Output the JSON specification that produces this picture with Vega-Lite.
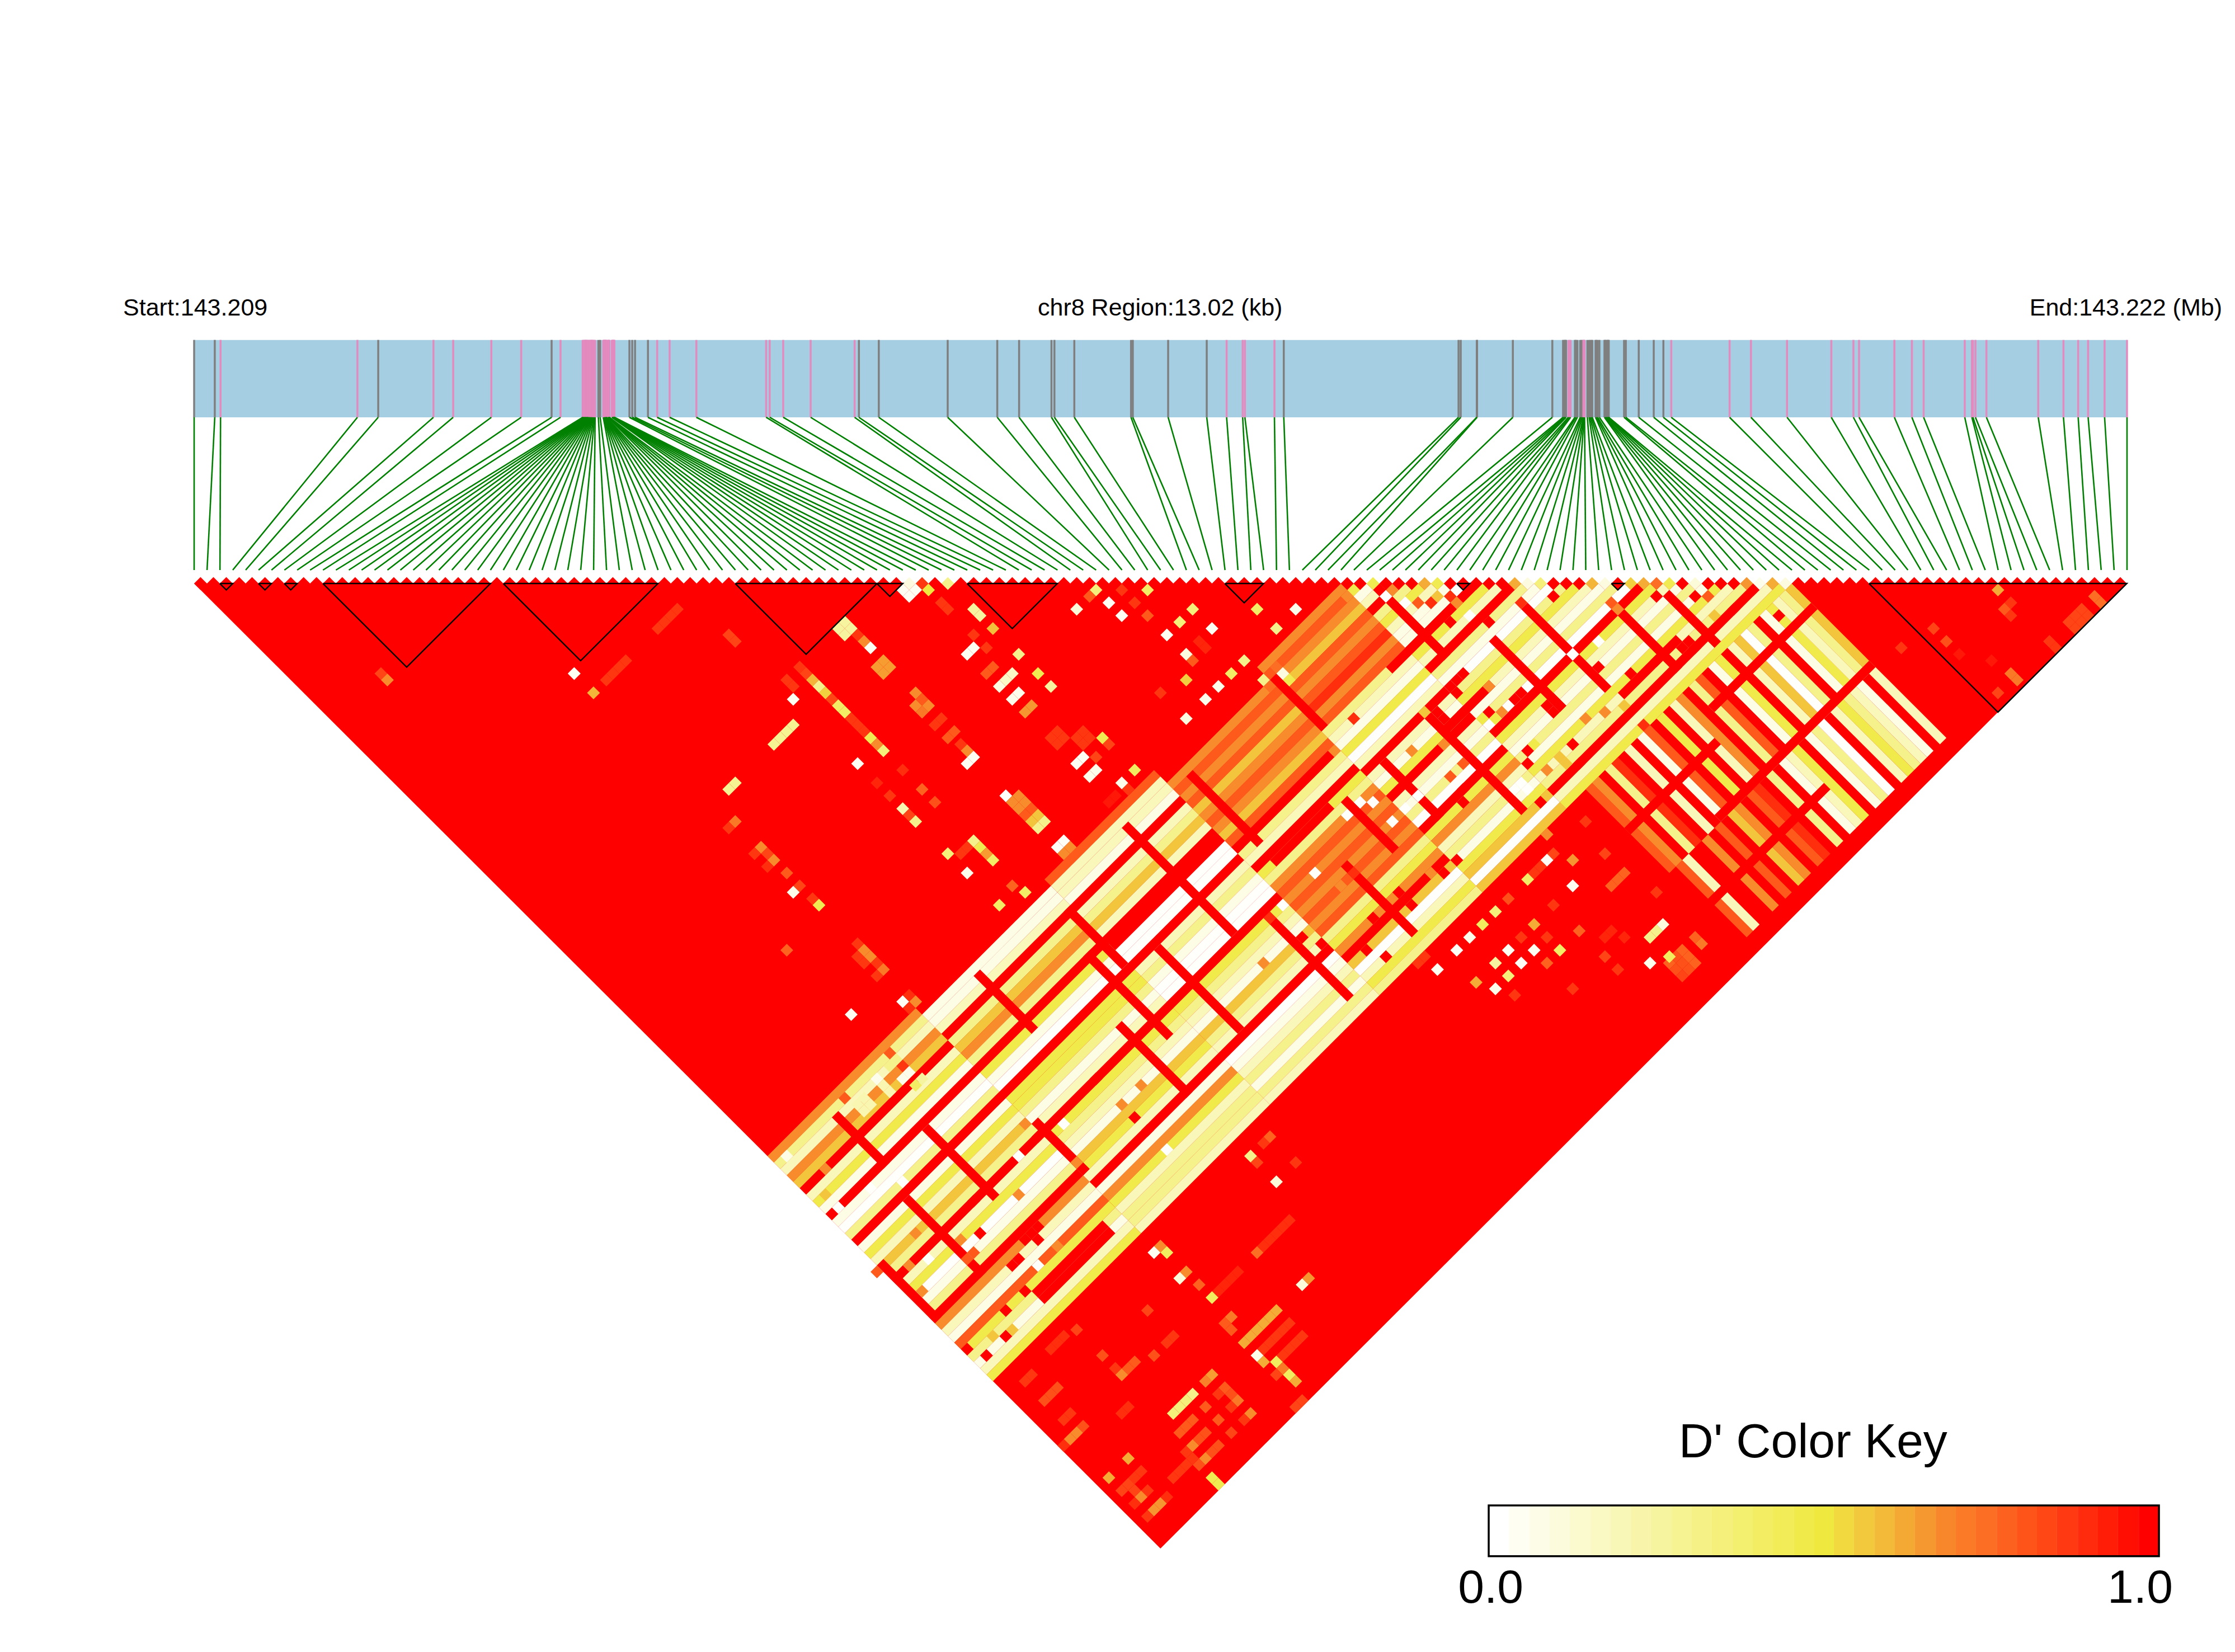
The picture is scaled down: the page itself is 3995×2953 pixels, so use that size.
{"$schema":"https://vega.github.io/schema/vega-lite/v6.json","width":3995,"height":2953,"padding":0,"autosize":{"type":"fit","contains":"padding"},"background":"white","config":{"view":{"stroke":null}},"resolve":{"scale":{"x":"independent"}},
"datasets":{
"snps":[{"k":0,"pos":0,"slot":0,"cls":"g"},{"k":1,"pos":139,"slot":87,"cls":"g"},{"k":2,"pos":178,"slot":174,"cls":"p"},{"k":3,"pos":1100,"slot":260,"cls":"p"},{"k":4,"pos":1240,"slot":347,"cls":"g"},{"k":5,"pos":1612,"slot":434,"cls":"p"},{"k":6,"pos":1745,"slot":521,"cls":"p"},{"k":7,"pos":2002,"slot":608,"cls":"p"},{"k":8,"pos":2203,"slot":694,"cls":"p"},{"k":9,"pos":2408,"slot":781,"cls":"g"},{"k":10,"pos":2468,"slot":868,"cls":"p"},{"k":11,"pos":2617,"slot":955,"cls":"p"},{"k":12,"pos":2621,"slot":1042,"cls":"p"},{"k":13,"pos":2625,"slot":1128,"cls":"p"},{"k":14,"pos":2630,"slot":1215,"cls":"p"},{"k":15,"pos":2634,"slot":1302,"cls":"p"},{"k":16,"pos":2638,"slot":1389,"cls":"p"},{"k":17,"pos":2642,"slot":1476,"cls":"p"},{"k":18,"pos":2646,"slot":1562,"cls":"p"},{"k":19,"pos":2651,"slot":1649,"cls":"p"},{"k":20,"pos":2655,"slot":1736,"cls":"p"},{"k":21,"pos":2659,"slot":1823,"cls":"p"},{"k":22,"pos":2663,"slot":1910,"cls":"p"},{"k":23,"pos":2667,"slot":1996,"cls":"p"},{"k":24,"pos":2672,"slot":2083,"cls":"p"},{"k":25,"pos":2676,"slot":2170,"cls":"p"},{"k":26,"pos":2680,"slot":2257,"cls":"p"},{"k":27,"pos":2684,"slot":2344,"cls":"p"},{"k":28,"pos":2688,"slot":2430,"cls":"p"},{"k":29,"pos":2693,"slot":2517,"cls":"p"},{"k":30,"pos":2697,"slot":2604,"cls":"p"},{"k":31,"pos":2701,"slot":2691,"cls":"p"},{"k":32,"pos":2723,"slot":2778,"cls":"g"},{"k":33,"pos":2735,"slot":2864,"cls":"g"},{"k":34,"pos":2756,"slot":2951,"cls":"p"},{"k":35,"pos":2759,"slot":3038,"cls":"p"},{"k":36,"pos":2761,"slot":3125,"cls":"p"},{"k":37,"pos":2763,"slot":3212,"cls":"p"},{"k":38,"pos":2766,"slot":3298,"cls":"p"},{"k":39,"pos":2768,"slot":3385,"cls":"p"},{"k":40,"pos":2771,"slot":3472,"cls":"p"},{"k":41,"pos":2773,"slot":3559,"cls":"p"},{"k":42,"pos":2775,"slot":3646,"cls":"p"},{"k":43,"pos":2778,"slot":3732,"cls":"p"},{"k":44,"pos":2787,"slot":3819,"cls":"p"},{"k":45,"pos":2790,"slot":3906,"cls":"p"},{"k":46,"pos":2792,"slot":3993,"cls":"p"},{"k":47,"pos":2795,"slot":4080,"cls":"p"},{"k":48,"pos":2797,"slot":4166,"cls":"p"},{"k":49,"pos":2814,"slot":4253,"cls":"p"},{"k":50,"pos":2816,"slot":4340,"cls":"p"},{"k":51,"pos":2819,"slot":4427,"cls":"p"},{"k":52,"pos":2821,"slot":4514,"cls":"p"},{"k":53,"pos":2823,"slot":4600,"cls":"p"},{"k":54,"pos":2826,"slot":4687,"cls":"p"},{"k":55,"pos":2828,"slot":4774,"cls":"p"},{"k":56,"pos":2831,"slot":4861,"cls":"p"},{"k":57,"pos":2932,"slot":4948,"cls":"g"},{"k":58,"pos":2951,"slot":5034,"cls":"g"},{"k":59,"pos":2970,"slot":5121,"cls":"g"},{"k":60,"pos":3057,"slot":5208,"cls":"g"},{"k":61,"pos":3119,"slot":5295,"cls":"p"},{"k":62,"pos":3203,"slot":5382,"cls":"p"},{"k":63,"pos":3383,"slot":5468,"cls":"p"},{"k":64,"pos":3853,"slot":5555,"cls":"p"},{"k":65,"pos":3877,"slot":5642,"cls":"p"},{"k":66,"pos":3968,"slot":5729,"cls":"p"},{"k":67,"pos":4153,"slot":5816,"cls":"p"},{"k":68,"pos":4449,"slot":5902,"cls":"p"},{"k":69,"pos":4478,"slot":5989,"cls":"g"},{"k":70,"pos":4612,"slot":6076,"cls":"g"},{"k":71,"pos":5076,"slot":6163,"cls":"g"},{"k":72,"pos":5410,"slot":6250,"cls":"g"},{"k":73,"pos":5557,"slot":6336,"cls":"g"},{"k":74,"pos":5775,"slot":6423,"cls":"g"},{"k":75,"pos":5795,"slot":6510,"cls":"g"},{"k":76,"pos":5929,"slot":6597,"cls":"g"},{"k":77,"pos":6311,"slot":6684,"cls":"g"},{"k":78,"pos":6323,"slot":6770,"cls":"g"},{"k":79,"pos":6561,"slot":6857,"cls":"g"},{"k":80,"pos":6821,"slot":6944,"cls":"g"},{"k":81,"pos":6955,"slot":7031,"cls":"p"},{"k":82,"pos":7063,"slot":7118,"cls":"p"},{"k":83,"pos":7078,"slot":7204,"cls":"p"},{"k":84,"pos":7277,"slot":7291,"cls":"p"},{"k":85,"pos":7340,"slot":7378,"cls":"g"},{"k":86,"pos":8517,"slot":7465,"cls":"g"},{"k":87,"pos":8532,"slot":7552,"cls":"g"},{"k":88,"pos":8640,"slot":7638,"cls":"g"},{"k":89,"pos":8642,"slot":7725,"cls":"g"},{"k":90,"pos":8883,"slot":7812,"cls":"g"},{"k":91,"pos":9149,"slot":7899,"cls":"g"},{"k":92,"pos":9221,"slot":7986,"cls":"g"},{"k":93,"pos":9229,"slot":8072,"cls":"g"},{"k":94,"pos":9236,"slot":8159,"cls":"g"},{"k":95,"pos":9241,"slot":8246,"cls":"g"},{"k":96,"pos":9257,"slot":8333,"cls":"p"},{"k":97,"pos":9265,"slot":8420,"cls":"p"},{"k":98,"pos":9272,"slot":8506,"cls":"p"},{"k":99,"pos":9301,"slot":8593,"cls":"g"},{"k":100,"pos":9308,"slot":8680,"cls":"g"},{"k":101,"pos":9318,"slot":8767,"cls":"g"},{"k":102,"pos":9337,"slot":8854,"cls":"g"},{"k":103,"pos":9344,"slot":8940,"cls":"g"},{"k":104,"pos":9351,"slot":9027,"cls":"g"},{"k":105,"pos":9358,"slot":9114,"cls":"p"},{"k":106,"pos":9361,"slot":9201,"cls":"p"},{"k":107,"pos":9363,"slot":9288,"cls":"p"},{"k":108,"pos":9366,"slot":9374,"cls":"p"},{"k":109,"pos":9385,"slot":9461,"cls":"g"},{"k":110,"pos":9397,"slot":9548,"cls":"g"},{"k":111,"pos":9404,"slot":9635,"cls":"g"},{"k":112,"pos":9411,"slot":9722,"cls":"g"},{"k":113,"pos":9418,"slot":9808,"cls":"g"},{"k":114,"pos":9440,"slot":9895,"cls":"g"},{"k":115,"pos":9447,"slot":9982,"cls":"g"},{"k":116,"pos":9454,"slot":10069,"cls":"g"},{"k":117,"pos":9466,"slot":10156,"cls":"g"},{"k":118,"pos":9500,"slot":10242,"cls":"g"},{"k":119,"pos":9505,"slot":10329,"cls":"g"},{"k":120,"pos":9510,"slot":10416,"cls":"g"},{"k":121,"pos":9517,"slot":10503,"cls":"g"},{"k":122,"pos":9522,"slot":10590,"cls":"g"},{"k":123,"pos":9527,"slot":10676,"cls":"g"},{"k":124,"pos":9529,"slot":10763,"cls":"g"},{"k":125,"pos":9632,"slot":10850,"cls":"g"},{"k":126,"pos":9644,"slot":10937,"cls":"g"},{"k":127,"pos":9731,"slot":11024,"cls":"g"},{"k":128,"pos":9832,"slot":11110,"cls":"g"},{"k":129,"pos":9897,"slot":11197,"cls":"g"},{"k":130,"pos":9950,"slot":11284,"cls":"p"},{"k":131,"pos":10343,"slot":11371,"cls":"p"},{"k":132,"pos":10487,"slot":11458,"cls":"p"},{"k":133,"pos":10730,"slot":11544,"cls":"p"},{"k":134,"pos":11028,"slot":11631,"cls":"p"},{"k":135,"pos":11177,"slot":11718,"cls":"p"},{"k":136,"pos":11215,"slot":11805,"cls":"p"},{"k":137,"pos":11453,"slot":11892,"cls":"p"},{"k":138,"pos":11571,"slot":11978,"cls":"p"},{"k":139,"pos":11650,"slot":12065,"cls":"p"},{"k":140,"pos":11927,"slot":12152,"cls":"p"},{"k":141,"pos":11975,"slot":12239,"cls":"p"},{"k":142,"pos":11982,"slot":12326,"cls":"p"},{"k":143,"pos":11999,"slot":12412,"cls":"p"},{"k":144,"pos":12073,"slot":12499,"cls":"p"},{"k":145,"pos":12422,"slot":12586,"cls":"p"},{"k":146,"pos":12592,"slot":12673,"cls":"p"},{"k":147,"pos":12691,"slot":12760,"cls":"p"},{"k":148,"pos":12758,"slot":12846,"cls":"p"},{"k":149,"pos":12869,"slot":12933,"cls":"p"},{"k":150,"pos":13020,"slot":13020,"cls":"p"}],
"strips":[{"s":90,"d":90,"t":112,"e":68,"v":0.68},{"s":133,"d":47,"t":149,"e":31,"v":0.8},{"s":166,"d":14,"t":178,"e":2,"v":0.68},
{"s":91,"d":91,"t":113,"e":69,"v":0.3},{"s":114,"d":68,"t":133,"e":49,"v":0.07},{"s":134,"d":48,"t":150,"e":32,"v":0.18},{"s":167,"d":15,"t":179,"e":3,"v":0.8},
{"s":92,"d":92,"t":114,"e":70,"v":0.18},{"s":115,"d":69,"t":134,"e":50,"v":0.07},{"s":135,"d":49,"t":151,"e":33,"v":0.18},{"s":152,"d":32,"t":167,"e":17,"v":0.68},{"s":168,"d":16,"t":180,"e":4,"v":0.68},{"s":181,"d":3,"t":182,"e":2,"v":0.07},
{"s":93,"d":93,"t":115,"e":71,"v":0.68},{"s":116,"d":70,"t":135,"e":51,"v":0.18},{"s":136,"d":50,"t":152,"e":34,"v":0.07},{"s":153,"d":33,"t":168,"e":18,"v":0.8},{"s":169,"d":17,"t":181,"e":5,"v":0.57},{"s":182,"d":4,"t":184,"e":2,"v":0.18},
{"s":94,"d":94,"t":116,"e":72,"v":0.57},{"s":154,"d":34,"t":169,"e":19,"v":0.68},{"s":170,"d":18,"t":182,"e":6,"v":0.8},
{"s":118,"d":72,"t":137,"e":53,"v":0.3},{"s":138,"d":52,"t":154,"e":36,"v":0.18},{"s":155,"d":35,"t":170,"e":20,"v":0.8},{"s":171,"d":19,"t":183,"e":7,"v":0.68},{"s":184,"d":6,"t":188,"e":2,"v":0.3},
{"s":96,"d":96,"t":118,"e":74,"v":0.18},{"s":119,"d":73,"t":138,"e":54,"v":0.57},{"s":139,"d":53,"t":155,"e":37,"v":0.3},{"s":156,"d":36,"t":171,"e":21,"v":0.57},{"s":172,"d":20,"t":184,"e":8,"v":0.8},{"s":185,"d":7,"t":190,"e":2,"v":0.47},
{"s":97,"d":97,"t":119,"e":75,"v":0.47},{"s":120,"d":74,"t":139,"e":55,"v":0.68},{"s":140,"d":54,"t":156,"e":38,"v":0.57},{"s":157,"d":37,"t":172,"e":22,"v":0.68},{"s":173,"d":21,"t":185,"e":9,"v":0.9},{"s":186,"d":8,"t":192,"e":2,"v":0.18},
{"s":98,"d":98,"t":120,"e":76,"v":0.07},{"s":121,"d":75,"t":140,"e":56,"v":0.3},{"s":141,"d":55,"t":157,"e":39,"v":0.18},{"s":158,"d":38,"t":173,"e":23,"v":0.8},{"s":174,"d":22,"t":186,"e":10,"v":0.68},{"s":187,"d":9,"t":194,"e":2,"v":0.07},
{"s":159,"d":39,"t":174,"e":24,"v":0.68},{"s":175,"d":23,"t":187,"e":11,"v":0.8},{"s":188,"d":10,"t":196,"e":2,"v":0.07},
{"s":100,"d":100,"t":122,"e":78,"v":0.07},{"s":123,"d":77,"t":142,"e":58,"v":0.47},{"s":160,"d":40,"t":175,"e":25,"v":0.57},{"s":176,"d":24,"t":188,"e":12,"v":0.3},
{"s":101,"d":101,"t":123,"e":79,"v":0.01},{"s":124,"d":78,"t":143,"e":59,"v":0.07},{"s":144,"d":58,"t":160,"e":42,"v":0.01},{"s":161,"d":41,"t":176,"e":26,"v":0.8},{"s":177,"d":25,"t":189,"e":13,"v":0.18},{"s":190,"d":12,"t":200,"e":2,"v":0.47},
{"s":102,"d":102,"t":124,"e":80,"v":0.3},{"s":125,"d":79,"t":144,"e":60,"v":0.01},{"s":145,"d":59,"t":161,"e":43,"v":0.01},{"s":178,"d":26,"t":190,"e":14,"v":0.07},{"s":191,"d":13,"t":202,"e":2,"v":0.18},
{"s":163,"d":43,"t":178,"e":28,"v":0.3},{"s":179,"d":27,"t":191,"e":15,"v":0.47},
{"s":104,"d":104,"t":126,"e":82,"v":0.07},{"s":127,"d":81,"t":146,"e":62,"v":0.47},{"s":147,"d":61,"t":163,"e":45,"v":0.18},{"s":164,"d":44,"t":179,"e":29,"v":0.18},{"s":180,"d":28,"t":192,"e":16,"v":0.01},{"s":193,"d":15,"t":206,"e":2,"v":0.3},
{"s":105,"d":105,"t":127,"e":83,"v":0.47},{"s":128,"d":82,"t":147,"e":63,"v":0.47},{"s":148,"d":62,"t":164,"e":46,"v":0.3},{"s":181,"d":29,"t":193,"e":17,"v":0.18},{"s":194,"d":16,"t":208,"e":2,"v":0.07},
{"s":106,"d":106,"t":128,"e":84,"v":0.18},{"s":129,"d":83,"t":148,"e":64,"v":0.3},{"s":149,"d":63,"t":165,"e":47,"v":0.07},{"s":166,"d":46,"t":181,"e":31,"v":0.47},{"s":195,"d":17,"t":210,"e":2,"v":0.01},
{"s":107,"d":107,"t":129,"e":85,"v":0.57},{"s":130,"d":84,"t":149,"e":65,"v":0.07},{"s":150,"d":64,"t":166,"e":48,"v":0.01},{"s":167,"d":47,"t":182,"e":32,"v":0.3},{"s":183,"d":31,"t":195,"e":19,"v":0.18},{"s":196,"d":18,"t":212,"e":2,"v":0.3},
{"s":108,"d":108,"t":130,"e":86,"v":0.3},{"s":131,"d":85,"t":150,"e":66,"v":0.18},{"s":151,"d":65,"t":167,"e":49,"v":0.01},{"s":168,"d":48,"t":183,"e":33,"v":0.68},{"s":184,"d":32,"t":196,"e":20,"v":0.07},{"s":197,"d":19,"t":214,"e":2,"v":0.47},
{"s":169,"d":49,"t":184,"e":34,"v":0.8},{"s":185,"d":33,"t":197,"e":21,"v":0.47},{"s":198,"d":20,"t":216,"e":2,"v":0.18},
{"s":110,"d":110,"t":132,"e":88,"v":0.18},{"s":133,"d":87,"t":152,"e":68,"v":0.47},{"s":153,"d":67,"t":169,"e":51,"v":0.47},{"s":170,"d":50,"t":185,"e":35,"v":0.68},{"s":199,"d":21,"t":218,"e":2,"v":0.07},
{"s":111,"d":111,"t":133,"e":89,"v":0.47},{"s":134,"d":88,"t":153,"e":69,"v":0.3},{"s":154,"d":68,"t":170,"e":52,"v":0.3},{"s":171,"d":51,"t":186,"e":36,"v":0.8},{"s":187,"d":35,"t":199,"e":23,"v":0.18},{"s":200,"d":22,"t":220,"e":2,"v":0.3},
{"s":112,"d":112,"t":134,"e":90,"v":0.01},{"s":135,"d":89,"t":154,"e":70,"v":0.18},{"s":155,"d":69,"t":171,"e":53,"v":0.18},{"s":172,"d":52,"t":187,"e":37,"v":0.68},{"s":188,"d":36,"t":200,"e":24,"v":0.07},{"s":201,"d":23,"t":222,"e":2,"v":0.01},
{"s":113,"d":113,"t":135,"e":91,"v":0.07},{"s":136,"d":90,"t":155,"e":71,"v":0.07},{"s":156,"d":70,"t":172,"e":54,"v":0.07},{"s":173,"d":53,"t":188,"e":38,"v":0.8},{"s":189,"d":37,"t":201,"e":25,"v":0.3},
{"s":114,"d":114,"t":136,"e":92,"v":0.3},{"s":137,"d":91,"t":156,"e":72,"v":0.57},{"s":157,"d":71,"t":173,"e":55,"v":0.57},{"s":174,"d":54,"t":189,"e":39,"v":0.68},{"s":190,"d":38,"t":202,"e":26,"v":0.01},{"s":203,"d":25,"t":226,"e":2,"v":0.47},
{"s":138,"d":92,"t":157,"e":73,"v":0.47},{"s":158,"d":72,"t":174,"e":56,"v":0.3},{"s":175,"d":55,"t":190,"e":40,"v":0.8},{"s":204,"d":26,"t":228,"e":2,"v":0.18},
{"s":116,"d":116,"t":138,"e":94,"v":0.68},{"s":139,"d":93,"t":158,"e":74,"v":0.18},{"s":159,"d":73,"t":175,"e":57,"v":0.18},{"s":176,"d":56,"t":191,"e":41,"v":0.3},{"s":192,"d":40,"t":204,"e":28,"v":0.47},{"s":205,"d":27,"t":230,"e":2,"v":0.07},
{"s":117,"d":117,"t":139,"e":95,"v":0.18},{"s":177,"d":57,"t":192,"e":42,"v":0.47},{"s":193,"d":41,"t":205,"e":29,"v":0.68},{"s":206,"d":28,"t":232,"e":2,"v":0.3},
{"s":118,"d":118,"t":140,"e":96,"v":0.07},{"s":141,"d":95,"t":160,"e":76,"v":0.07},{"s":161,"d":75,"t":177,"e":59,"v":0.01},{"s":178,"d":58,"t":193,"e":43,"v":0.68},{"s":194,"d":42,"t":206,"e":30,"v":0.18},{"s":207,"d":29,"t":234,"e":2,"v":0.07},
{"s":119,"d":119,"t":141,"e":97,"v":0.8},{"s":142,"d":96,"t":161,"e":77,"v":0.68},{"s":162,"d":76,"t":178,"e":60,"v":0.07},{"s":195,"d":43,"t":207,"e":31,"v":0.3},{"s":208,"d":30,"t":236,"e":2,"v":0.47},
{"s":120,"d":120,"t":142,"e":98,"v":0.47},{"s":143,"d":97,"t":162,"e":78,"v":0.47},{"s":163,"d":77,"t":179,"e":61,"v":0.18},{"s":180,"d":60,"t":195,"e":45,"v":0.57},{"s":196,"d":44,"t":208,"e":32,"v":0.07},{"s":209,"d":31,"t":238,"e":2,"v":0.18},
{"s":121,"d":121,"t":143,"e":99,"v":0.3},{"s":144,"d":98,"t":163,"e":79,"v":0.18},{"s":164,"d":78,"t":180,"e":62,"v":0.3},{"s":181,"d":61,"t":196,"e":46,"v":0.01},{"s":197,"d":45,"t":209,"e":33,"v":0.47},{"s":210,"d":32,"t":240,"e":2,"v":0.3},
{"s":122,"d":122,"t":144,"e":100,"v":0.07},{"s":145,"d":99,"t":164,"e":80,"v":0.3},{"s":165,"d":79,"t":181,"e":63,"v":0.07},{"s":182,"d":62,"t":197,"e":47,"v":0.18},{"s":198,"d":46,"t":210,"e":34,"v":0.57},
{"s":123,"d":123,"t":145,"e":101,"v":0.18},{"s":146,"d":100,"t":165,"e":81,"v":0.3},{"s":166,"d":80,"t":182,"e":64,"v":0.3},{"s":183,"d":63,"t":198,"e":48,"v":0.47},{"s":199,"d":47,"t":211,"e":35,"v":0.01},{"s":212,"d":34,"t":244,"e":2,"v":0.18},
{"s":124,"d":124,"t":146,"e":102,"v":0.47},{"s":147,"d":101,"t":166,"e":82,"v":0.18},{"s":167,"d":81,"t":183,"e":65,"v":0.18},{"s":184,"d":64,"t":199,"e":49,"v":0.3},{"s":200,"d":48,"t":212,"e":36,"v":0.57},{"s":213,"d":35,"t":246,"e":2,"v":0.47},
{"s":107,"d":107,"t":115,"e":115,"v":1},{"s":111,"d":97,"t":122,"e":108,"v":1},{"s":100,"d":84,"t":107,"e":91,"v":1},{"s":114,"d":86,"t":124,"e":96,"v":1},{"s":131,"d":85,"t":138,"e":92,"v":1},{"s":122,"d":62,"t":130,"e":70,"v":1},{"s":144,"d":70,"t":154,"e":80,"v":1},{"s":139,"d":59,"t":151,"e":71,"v":1},{"s":136,"d":52,"t":144,"e":60,"v":1},{"s":150,"d":58,"t":162,"e":70,"v":1},{"s":145,"d":39,"t":161,"e":55,"v":1},{"s":167,"d":53,"t":179,"e":65,"v":1},{"s":155,"d":31,"t":165,"e":41,"v":1},{"s":179,"d":45,"t":189,"e":55,"v":1},{"s":179,"d":35,"t":186,"e":42,"v":1},{"s":168,"d":16,"t":175,"e":23,"v":1},{"s":185,"d":29,"t":193,"e":37,"v":1},{"s":192,"d":22,"t":206,"e":36,"v":1},{"s":184,"d":2,"t":194,"e":12,"v":1},{"s":202,"d":10,"t":212,"e":20,"v":1},{"s":207,"d":5,"t":219,"e":17,"v":1},{"s":221,"d":5,"t":230,"e":14,"v":1},{"s":229,"d":3,"t":236,"e":10,"v":1},
{"s":186,"d":14,"t":195,"e":5,"v":1},{"s":168,"d":44,"t":176,"e":36,"v":1},{"s":194,"d":24,"t":201,"e":17,"v":1},{"s":222,"d":18,"t":230,"e":10,"v":1},{"s":132,"d":112,"t":142,"e":102,"v":1},{"s":131,"d":111,"t":141,"e":101,"v":1},
{"s":217,"d":33,"t":229,"e":45,"v":0.8},{"s":218,"d":32,"t":230,"e":44,"v":0.68},{"s":231,"d":45,"t":241,"e":55,"v":0.8},{"s":232,"d":44,"t":242,"e":54,"v":0.18},{"s":220,"d":30,"t":232,"e":42,"v":0.3},{"s":221,"d":29,"t":233,"e":41,"v":0.9},{"s":235,"d":41,"t":245,"e":51,"v":0.68},{"s":223,"d":27,"t":235,"e":39,"v":0.18},{"s":237,"d":39,"t":247,"e":49,"v":0.8},{"s":225,"d":25,"t":237,"e":37,"v":0.07},{"s":226,"d":24,"t":238,"e":36,"v":0.8},{"s":239,"d":37,"t":249,"e":47,"v":0.57},{"s":240,"d":36,"t":250,"e":46,"v":0.68},{"s":228,"d":22,"t":240,"e":34,"v":0.47},{"s":242,"d":34,"t":252,"e":44,"v":0.8},{"s":230,"d":20,"t":242,"e":32,"v":0.18},{"s":243,"d":33,"t":253,"e":43,"v":0.9},{"s":231,"d":19,"t":243,"e":31,"v":0.68},{"s":245,"d":31,"t":255,"e":41,"v":0.3},{"s":233,"d":17,"t":245,"e":29,"v":0.3},{"s":234,"d":16,"t":246,"e":28,"v":0.8},{"s":247,"d":29,"t":257,"e":39,"v":0.07},{"s":248,"d":28,"t":258,"e":38,"v":0.18},{"s":236,"d":14,"t":248,"e":26,"v":0.07},{"s":249,"d":27,"t":259,"e":37,"v":0.47},{"s":237,"d":13,"t":249,"e":25,"v":0.47},{"s":251,"d":25,"t":261,"e":35,"v":0.07},{"s":239,"d":11,"t":251,"e":23,"v":0.18},{"s":252,"d":24,"t":262,"e":34,"v":0.3},{"s":240,"d":10,"t":252,"e":22,"v":0.57},{"s":253,"d":23,"t":263,"e":33,"v":0.01},{"s":241,"d":9,"t":253,"e":21,"v":0.01},{"s":242,"d":8,"t":254,"e":20,"v":0.3},{"s":255,"d":21,"t":265,"e":31,"v":0.18},{"s":256,"d":20,"t":266,"e":30,"v":0.47},{"s":244,"d":6,"t":256,"e":18,"v":0.07},{"s":257,"d":19,"t":267,"e":29,"v":0.3},{"s":245,"d":5,"t":257,"e":17,"v":0.47},{"s":258,"d":18,"t":268,"e":28,"v":0.18},{"s":246,"d":4,"t":258,"e":16,"v":0.18},{"s":259,"d":17,"t":269,"e":27,"v":0.07},{"s":247,"d":3,"t":259,"e":15,"v":0.3},{"s":248,"d":2,"t":260,"e":14,"v":0.57},{"s":261,"d":15,"t":271,"e":25,"v":0.18},
{"s":223,"d":39,"t":236,"e":26,"v":1},{"s":237,"d":37,"t":260,"e":14,"v":1},{"s":235,"d":51,"t":253,"e":33,"v":1},{"s":236,"d":20,"t":251,"e":5,"v":1}],
"cells":[{"s":29,"d":15,"v":0.85},{"s":30,"d":16,"v":0.68},{"s":59,"d":15,"v":0.03},{"s":62,"d":18,"v":0.6},{"s":72,"d":8,"v":0.88},{"s":73,"d":7,"v":0.88},{"s":74,"d":6,"v":0.88},{"s":75,"d":5,"v":0.88},{"s":83,"d":9,"v":0.85},{"s":84,"d":10,"v":0.85},{"s":64,"d":16,"v":0.88},{"s":65,"d":15,"v":0.88},{"s":66,"d":14,"v":0.88},{"s":67,"d":13,"v":0.88},
{"s":101,"d":7,"v":0.25},{"s":100,"d":8,"v":0.25},{"s":102,"d":8,"v":0.25},{"s":101,"d":9,"v":0.25},{"s":103,"d":9,"v":0.88},{"s":104,"d":10,"v":0.68},{"s":105,"d":11,"v":0.03},{"s":107,"d":13,"v":0.65},{"s":106,"d":14,"v":0.65},{"s":108,"d":14,"v":0.65},{"s":107,"d":15,"v":0.65},{"s":94,"d":14,"v":0.88},{"s":95,"d":15,"v":0.85},{"s":96,"d":16,"v":0.6},{"s":97,"d":17,"v":0.3},{"s":98,"d":18,"v":0.55},{"s":92,"d":16,"v":0.88},{"s":93,"d":17,"v":0.88},{"s":112,"d":18,"v":0.68},{"s":110,"d":2,"v":0.03},{"s":111,"d":1,"v":0.08},{"s":113,"d":1,"v":0.88},{"s":114,"d":2,"v":0.5},{"s":111,"d":3,"v":0.03},{"s":112,"d":2,"v":0.03},{"s":116,"d":4,"v":0.88},{"s":117,"d":5,"v":0.88},{"s":117,"d":1,"v":0.3},{"s":121,"d":5,"v":0.25},{"s":122,"d":6,"v":0.25},{"s":124,"d":8,"v":0.58},{"s":121,"d":9,"v":0.88},{"s":120,"d":12,"v":0.03},{"s":121,"d":11,"v":0.03},{"s":123,"d":11,"v":0.88},{"s":128,"d":12,"v":0.3},{"s":123,"d":15,"v":0.8},{"s":124,"d":14,"v":0.8},{"s":125,"d":17,"v":0.08},{"s":126,"d":16,"v":0.15},{"s":127,"d":15,"v":0.15},{"s":131,"d":15,"v":0.45},{"s":133,"d":17,"v":0.25},{"s":137,"d":5,"v":0.1},{"s":140,"d":2,"v":0.35},{"s":139,"d":3,"v":0.8},{"s":142,"d":4,"v":0.03},{"s":144,"d":2,"v":0.88},{"s":146,"d":4,"v":0.88},{"s":144,"d":6,"v":0.03},{"s":148,"d":6,"v":0.8},{"s":148,"d":2,"v":0.4},{"s":155,"d":5,"v":0.35},{"s":153,"d":7,"v":0.35},{"s":151,"d":9,"v":0.03},{"s":158,"d":8,"v":0.03},{"s":165,"d":5,"v":0.4},{"s":171,"d":5,"v":0.05},{"s":168,"d":8,"v":0.3},{"s":156,"d":10,"v":0.92},{"s":157,"d":11,"v":0.92},{"s":154,"d":12,"v":0.08},{"s":155,"d":13,"v":0.8},{"s":163,"d":13,"v":0.3},{"s":161,"d":15,"v":0.4},{"s":154,"d":16,"v":0.55},{"s":159,"d":17,"v":0.05},{"s":168,"d":14,"v":0.75},{"s":169,"d":15,"v":0.08},{"s":170,"d":16,"v":0.45},{"s":166,"d":16,"v":0.3},{"s":167,"d":17,"v":0.75},{"s":150,"d":18,"v":0.88},
{"s":93,"d":19,"v":0.03},{"s":99,"d":19,"v":0.85},{"s":100,"d":20,"v":0.4},{"s":101,"d":21,"v":0.4},{"s":90,"d":26,"v":0.28},{"s":91,"d":25,"v":0.28},{"s":92,"d":24,"v":0.28},{"s":93,"d":23,"v":0.28},{"s":103,"d":29,"v":0.03},{"s":102,"d":22,"v":0.88},{"s":103,"d":23,"v":0.88},{"s":104,"d":24,"v":0.88},{"s":105,"d":25,"v":0.45},{"s":106,"d":26,"v":0.68},{"s":107,"d":27,"v":0.35},{"s":110,"d":30,"v":0.9},{"s":106,"d":32,"v":0.92},{"s":108,"d":34,"v":0.88},{"s":113,"d":33,"v":0.78},{"s":115,"d":35,"v":0.82},{"s":110,"d":36,"v":0.2},{"s":111,"d":37,"v":0.85},{"s":112,"d":38,"v":0.3},{"s":112,"d":20,"v":0.68},{"s":113,"d":19,"v":0.8},{"s":113,"d":21,"v":0.72},{"s":114,"d":20,"v":0.68},{"s":115,"d":23,"v":0.88},{"s":116,"d":22,"v":0.88},{"s":117,"d":25,"v":0.8},{"s":118,"d":24,"v":0.8},{"s":119,"d":26,"v":0.88},{"s":120,"d":27,"v":0.68},{"s":121,"d":28,"v":0.03},{"s":120,"d":29,"v":0.03},{"s":83,"d":33,"v":0.28},{"s":84,"d":32,"v":0.28},{"s":83,"d":39,"v":0.88},{"s":84,"d":38,"v":0.72},{"s":88,"d":42,"v":0.68},{"s":87,"d":43,"v":0.88},{"s":89,"d":43,"v":0.85},{"s":90,"d":44,"v":0.68},{"s":89,"d":45,"v":0.9},{"s":92,"d":46,"v":0.8},{"s":94,"d":48,"v":0.85},{"s":93,"d":49,"v":0.05},{"s":96,"d":50,"v":0.88},{"s":97,"d":51,"v":0.45},{"s":92,"d":58,"v":0.78},{"s":103,"d":57,"v":0.88},{"s":104,"d":58,"v":0.68},{"s":105,"d":59,"v":0.68},{"s":103,"d":59,"v":0.88},{"s":104,"d":60,"v":0.88},{"s":106,"d":60,"v":0.88},{"s":107,"d":61,"v":0.72},{"s":106,"d":62,"v":0.88},{"s":110,"d":66,"v":0.02},{"s":111,"d":65,"v":0.9},{"s":112,"d":66,"v":0.68},{"s":111,"d":67,"v":0.9},{"s":102,"d":68,"v":0.03},{"s":108,"d":74,"v":0.8},{"s":109,"d":75,"v":0.3},{"s":108,"d":76,"v":0.3},{"s":110,"d":76,"v":0.88},{"s":111,"d":77,"v":0.05},{"s":110,"d":78,"v":0.05},{"s":106,"d":78,"v":0.05},{"s":107,"d":79,"v":0.2},{"s":108,"d":80,"v":0.2},{"s":104,"d":81,"v":0.2},{"s":103,"d":82,"v":0.2},{"s":105,"d":82,"v":0.2},{"s":104,"d":83,"v":0.2},{"s":101,"d":81,"v":0.8},{"s":112,"d":79,"v":0.4},{"s":113,"d":78,"v":0.25},{"s":117,"d":43,"v":0.35},{"s":120,"d":46,"v":0.05},{"s":120,"d":42,"v":0.88},{"s":119,"d":43,"v":0.88},{"s":122,"d":42,"v":0.45},{"s":123,"d":43,"v":0.65},{"s":124,"d":44,"v":0.4},{"s":121,"d":41,"v":0.3},{"s":127,"d":48,"v":0.78},{"s":129,"d":49,"v":0.4},{"s":125,"d":51,"v":0.4},{"s":134,"d":24,"v":0.88},{"s":133,"d":25,"v":0.88},{"s":135,"d":25,"v":0.88},{"s":134,"d":26,"v":0.88},{"s":138,"d":24,"v":0.88},{"s":137,"d":25,"v":0.88},{"s":139,"d":25,"v":0.88},{"s":138,"d":26,"v":0.88},{"s":141,"d":25,"v":0.45},{"s":142,"d":26,"v":0.85},{"s":137,"d":29,"v":0.03},{"s":138,"d":28,"v":0.03},{"s":140,"d":28,"v":0.85},{"s":139,"d":31,"v":0.05},{"s":140,"d":30,"v":0.05},{"s":146,"d":30,"v":0.42},{"s":144,"d":32,"v":0.05},{"s":145,"d":33,"v":0.88},{"s":142,"d":35,"v":0.95},{"s":143,"d":34,"v":0.95},{"s":154,"d":22,"v":0.08},{"s":157,"d":19,"v":0.05},{"s":127,"d":19,"v":0.05},{"s":128,"d":18,"v":0.05},{"s":129,"d":21,"v":0.66},{"s":130,"d":20,"v":0.66},{"s":134,"d":42,"v":0.02},{"s":135,"d":41,"v":0.02},{"s":135,"d":43,"v":0.68},{"s":136,"d":42,"v":0.68},{"s":126,"d":34,"v":0.01},{"s":127,"d":35,"v":0.68},{"s":128,"d":36,"v":0.68},{"s":129,"d":37,"v":0.8},{"s":130,"d":38,"v":0.57},{"s":131,"d":39,"v":0.3},{"s":128,"d":34,"v":0.68},{"s":129,"d":35,"v":0.68},{"s":130,"d":36,"v":0.8},{"s":131,"d":37,"v":0.57},{"s":132,"d":38,"v":0.3},
{"s":210,"d":40,"v":0.68},{"s":216,"d":38,"v":0.88},{"s":211,"d":43,"v":0.85},{"s":210,"d":44,"v":0.02},{"s":209,"d":45,"v":0.88},{"s":208,"d":46,"v":0.88},{"s":214,"d":44,"v":0.66},{"s":207,"d":47,"v":0.4},{"s":214,"d":48,"v":0.03},{"s":219,"d":43,"v":0.85},{"s":220,"d":48,"v":0.78},{"s":221,"d":47,"v":0.78},{"s":222,"d":46,"v":0.78},{"s":227,"d":49,"v":0.88},{"s":204,"d":50,"v":0.82},{"s":211,"d":51,"v":0.88},{"s":202,"d":52,"v":0.35},{"s":200,"d":54,"v":0.42},{"s":208,"d":54,"v":0.62},{"s":215,"d":55,"v":0.78},{"s":198,"d":56,"v":0.05},{"s":206,"d":56,"v":0.88},{"s":210,"d":56,"v":0.88},{"s":196,"d":58,"v":0.02},{"s":204,"d":58,"v":0.03},{"s":208,"d":58,"v":0.03},{"s":212,"d":58,"v":0.4},{"s":202,"d":60,"v":0.25},{"s":206,"d":60,"v":0.02},{"s":210,"d":60,"v":0.78},{"s":193,"d":61,"v":0.03},{"s":204,"d":62,"v":0.35},{"s":219,"d":59,"v":0.85},{"s":221,"d":61,"v":0.88},{"s":219,"d":56,"v":0.92},{"s":220,"d":55,"v":0.92},{"s":222,"d":56,"v":0.92},{"s":199,"d":63,"v":0.62},{"s":202,"d":64,"v":0.05},{"s":214,"d":64,"v":0.88},{"s":205,"d":65,"v":0.88},{"s":190,"d":60,"v":0.88},{"s":191,"d":59,"v":0.88},{"s":226,"d":56,"v":0.3},{"s":227,"d":55,"v":0.3},{"s":228,"d":54,"v":0.08},{"s":231,"d":58,"v":0.78},{"s":232,"d":59,"v":0.78},{"s":233,"d":60,"v":0.78},{"s":230,"d":59,"v":0.82},{"s":231,"d":60,"v":0.82},{"s":232,"d":61,"v":0.82},{"s":229,"d":60,"v":0.78},{"s":230,"d":61,"v":0.82},{"s":231,"d":62,"v":0.85},{"s":233,"d":56,"v":0.78},{"s":234,"d":57,"v":0.72},{"s":226,"d":60,"v":0.05},{"s":229,"d":59,"v":0.42},
{"s":167,"d":87,"v":0.78},{"s":166,"d":88,"v":0.88},{"s":164,"d":90,"v":0.3},{"s":165,"d":91,"v":0.85},{"s":171,"d":91,"v":0.88},{"s":168,"d":94,"v":0.1},{"s":165,"d":105,"v":0.75},{"s":166,"d":104,"v":0.9},{"s":167,"d":103,"v":0.9},{"s":168,"d":102,"v":0.9},{"s":169,"d":101,"v":0.9},{"s":170,"d":100,"v":0.9},{"s":150,"d":104,"v":0.68},{"s":149,"d":105,"v":0.03},{"s":151,"d":105,"v":0.42},{"s":154,"d":108,"v":0.68},{"s":153,"d":109,"v":0.1},{"s":156,"d":110,"v":0.78},{"s":159,"d":111,"v":0.92},{"s":160,"d":110,"v":0.92},{"s":161,"d":109,"v":0.92},{"s":162,"d":108,"v":0.92},{"s":158,"d":112,"v":0.42},{"s":172,"d":110,"v":0.1},{"s":173,"d":109,"v":0.66},{"s":148,"d":114,"v":0.85},{"s":137,"d":117,"v":0.85},{"s":133,"d":120,"v":0.9},{"s":134,"d":119,"v":0.9},{"s":135,"d":118,"v":0.9},{"s":141,"d":121,"v":0.82},{"s":149,"d":121,"v":0.82},{"s":143,"d":123,"v":0.88},{"s":144,"d":124,"v":0.68},{"s":145,"d":123,"v":0.8},{"s":146,"d":122,"v":0.8},{"s":161,"d":115,"v":0.72},{"s":160,"d":116,"v":0.8},{"s":161,"d":117,"v":0.8},{"s":163,"d":119,"v":0.62},{"s":164,"d":118,"v":0.62},{"s":165,"d":117,"v":0.62},{"s":166,"d":116,"v":0.62},{"s":167,"d":115,"v":0.62},{"s":168,"d":114,"v":0.62},{"s":166,"d":120,"v":0.88},{"s":167,"d":119,"v":0.88},{"s":168,"d":118,"v":0.88},{"s":169,"d":117,"v":0.88},{"s":170,"d":116,"v":0.88},{"s":168,"d":122,"v":0.42},{"s":169,"d":121,"v":0.88},{"s":170,"d":120,"v":0.88},{"s":171,"d":119,"v":0.88},{"s":172,"d":118,"v":0.88},{"s":165,"d":121,"v":0.05},{"s":166,"d":122,"v":0.62},{"s":170,"d":124,"v":0.42},{"s":169,"d":123,"v":0.72},{"s":171,"d":125,"v":0.62},{"s":168,"d":124,"v":0.85},{"s":171,"d":129,"v":0.85},{"s":172,"d":128,"v":0.85},{"s":152,"d":118,"v":0.88},{"s":151,"d":119,"v":0.88},{"s":157,"d":125,"v":0.7},{"s":158,"d":124,"v":0.65},{"s":155,"d":127,"v":0.3},{"s":152,"d":130,"v":0.35},{"s":153,"d":129,"v":0.35},{"s":154,"d":128,"v":0.35},{"s":157,"d":129,"v":0.8},{"s":160,"d":126,"v":0.8},{"s":161,"d":127,"v":0.82},{"s":162,"d":128,"v":0.72},{"s":159,"d":127,"v":0.88},{"s":161,"d":129,"v":0.88},{"s":164,"d":130,"v":0.68},{"s":163,"d":131,"v":0.88},{"s":159,"d":131,"v":0.8},{"s":161,"d":133,"v":0.85},{"s":153,"d":133,"v":0.8},{"s":154,"d":132,"v":0.8},{"s":155,"d":131,"v":0.8},{"s":154,"d":136,"v":0.88},{"s":155,"d":135,"v":0.68},{"s":156,"d":134,"v":0.82},{"s":157,"d":133,"v":0.82},{"s":156,"d":138,"v":0.82},{"s":157,"d":137,"v":0.68},{"s":158,"d":136,"v":0.82},{"s":159,"d":135,"v":0.82},{"s":152,"d":140,"v":0.88},{"s":153,"d":139,"v":0.88},{"s":154,"d":138,"v":0.88},{"s":155,"d":137,"v":0.88},{"s":158,"d":140,"v":0.45},{"s":159,"d":141,"v":0.45},{"s":145,"d":137,"v":0.62},{"s":142,"d":140,"v":0.62},{"s":146,"d":140,"v":0.88},{"s":147,"d":139,"v":0.88},{"s":145,"d":141,"v":0.85},{"s":146,"d":142,"v":0.85},{"s":148,"d":142,"v":0.88},{"s":144,"d":142,"v":0.85},{"s":147,"d":143,"v":0.68},{"s":150,"d":144,"v":0.66},{"s":149,"d":145,"v":0.66},{"s":151,"d":143,"v":0.9},{"s":148,"d":146,"v":0.88},{"s":146,"d":144,"v":0.9},{"s":129,"d":125,"v":0.88},{"s":130,"d":124,"v":0.88},{"s":132,"d":128,"v":0.82},{"s":133,"d":127,"v":0.82},{"s":134,"d":126,"v":0.82},{"s":135,"d":131,"v":0.88},{"s":136,"d":130,"v":0.88},{"s":136,"d":134,"v":0.68},{"s":137,"d":133,"v":0.68},{"s":135,"d":135,"v":0.9},{"s":138,"d":132,"v":0.82},{"s":144,"d":130,"v":0.9},{"s":145,"d":129,"v":0.9},
{"s":280,"d":2,"v":0.62},{"s":282,"d":4,"v":0.88},{"s":281,"d":5,"v":0.8},{"s":282,"d":6,"v":0.88},{"s":295,"d":3,"v":0.75},{"s":296,"d":4,"v":0.75},{"s":291,"d":7,"v":0.85},{"s":292,"d":6,"v":0.85},{"s":293,"d":5,"v":0.85},{"s":292,"d":8,"v":0.85},{"s":293,"d":7,"v":0.85},{"s":294,"d":6,"v":0.85},{"s":270,"d":8,"v":0.85},{"s":272,"d":10,"v":0.82},{"s":274,"d":12,"v":0.95},{"s":279,"d":13,"v":0.95},{"s":265,"d":11,"v":0.88},{"s":288,"d":10,"v":0.88},{"s":289,"d":11,"v":0.88},{"s":282,"d":15,"v":0.72},{"s":283,"d":16,"v":0.72},{"s":280,"d":18,"v":0.85},
{"s":200,"d":6,"v":1},{"s":198,"d":8,"v":1},{"s":193,"d":7,"v":1},{"s":195,"d":7,"v":1},{"s":218,"d":14,"v":1},{"s":211,"d":19,"v":1},{"s":210,"d":20,"v":1},{"s":212,"d":20,"v":1},{"s":211,"d":21,"v":1},{"s":235,"d":9,"v":1},{"s":239,"d":5,"v":1},{"s":242,"d":2,"v":1},{"s":246,"d":6,"v":1},{"s":227,"d":3,"v":1},{"s":233,"d":3,"v":1},{"s":232,"d":10,"v":1},{"s":233,"d":11,"v":1},{"s":231,"d":11,"v":1},{"s":227,"d":13,"v":1},{"s":223,"d":15,"v":1},{"s":196,"d":16,"v":1},{"s":197,"d":15,"v":1},{"s":195,"d":17,"v":1},{"s":196,"d":18,"v":1},{"s":197,"d":21,"v":1},{"s":194,"d":22,"v":1},{"s":193,"d":21,"v":1},{"s":180,"d":22,"v":0.9},{"s":206,"d":18,"v":1},{"s":205,"d":19,"v":1},
{"s":218,"d":10,"v":0.01},{"s":214,"d":12,"v":0.01},{"s":206,"d":32,"v":0.01},{"s":205,"d":33,"v":0.01},{"s":207,"d":33,"v":0.01},{"s":216,"d":22,"v":0.68},{"s":177,"d":27,"v":0.68},{"s":191,"d":21,"v":0.57},{"s":189,"d":27,"v":0.68},{"s":194,"d":26,"v":0.68},{"s":197,"d":29,"v":0.8},{"s":195,"d":31,"v":0.8},{"s":197,"d":33,"v":1},{"s":197,"d":35,"v":1},{"s":212,"d":28,"v":0.57},{"s":214,"d":26,"v":1},{"s":219,"d":21,"v":0.68},{"s":222,"d":20,"v":0.57},{"s":225,"d":23,"v":0.9},{"s":201,"d":17,"v":0.68},{"s":203,"d":21,"v":0.68},{"s":205,"d":21,"v":1},{"s":201,"d":21,"v":1},{"s":207,"d":29,"v":1},{"s":207,"d":27,"v":1},{"s":210,"d":30,"v":0.68},{"s":213,"d":29,"v":0.57},{"s":215,"d":29,"v":1},{"s":209,"d":35,"v":1},{"s":212,"d":36,"v":0.57},{"s":208,"d":26,"v":0.47},{"s":200,"d":22,"v":0.47},{"s":202,"d":22,"v":0.47},{"s":190,"d":34,"v":0.01},{"s":188,"d":36,"v":0.01},{"s":186,"d":38,"v":0.01},{"s":183,"d":35,"v":0.01},{"s":181,"d":35,"v":0.01},{"s":179,"d":37,"v":0.01},{"s":174,"d":46,"v":0.01},{"s":169,"d":51,"v":0.01},{"s":162,"d":42,"v":1},{"s":192,"d":46,"v":0.68},{"s":194,"d":46,"v":1},{"s":196,"d":44,"v":1},{"s":189,"d":51,"v":1},{"s":185,"d":51,"v":1},{"s":183,"d":53,"v":1},{"s":187,"d":49,"v":1},{"s":178,"d":48,"v":0.68},{"s":177,"d":45,"v":0.8},{"s":180,"d":46,"v":0.9},{"s":182,"d":58,"v":1},{"s":185,"d":59,"v":1},{"s":175,"d":57,"v":1},{"s":172,"d":56,"v":1},{"s":167,"d":53,"v":0.9},{"s":166,"d":60,"v":0.68},
{"s":123,"d":95,"v":1},{"s":121,"d":97,"v":1},{"s":126,"d":114,"v":1},{"s":126,"d":118,"v":1},{"s":123,"d":121,"v":1},{"s":120,"d":120,"v":1},{"s":140,"d":78,"v":1},{"s":146,"d":84,"v":1},{"s":148,"d":86,"v":1},{"s":138,"d":92,"v":1},{"s":131,"d":87,"v":1},{"s":129,"d":85,"v":0.68},{"s":130,"d":102,"v":1},{"s":131,"d":101,"v":1},{"s":129,"d":103,"v":1},{"s":131,"d":103,"v":1},{"s":127,"d":107,"v":1},{"s":128,"d":106,"v":1},{"s":129,"d":111,"v":1},{"s":122,"d":102,"v":1},{"s":128,"d":90,"v":0.01},{"s":135,"d":85,"v":0.01},{"s":131,"d":107,"v":0.01},{"s":151,"d":89,"v":0.01},{"s":114,"d":106,"v":0.01},{"s":110,"d":94,"v":0.01},{"s":105,"d":95,"v":0.01},{"s":92,"d":90,"v":0.07},{"s":100,"d":98,"v":0.01},{"s":128,"d":96,"v":0.68},{"s":119,"d":103,"v":0.68},{"s":112,"d":102,"v":0.68},{"s":120,"d":106,"v":0.8},{"s":121,"d":105,"v":0.8},{"s":134,"d":104,"v":0.68},{"s":124,"d":118,"v":0.57},{"s":127,"d":117,"v":0.57},{"s":144,"d":82,"v":0.68},{"s":147,"d":79,"v":0.68},{"s":137,"d":91,"v":0.68},{"s":106,"d":108,"v":0.8},{"s":111,"d":107,"v":0.68},{"s":113,"d":111,"v":0.68},{"s":98,"d":92,"v":0.68},{"s":98,"d":96,"v":0.57},{"s":179,"d":3,"v":0.68},{"s":180,"d":2,"v":0.47},{"s":181,"d":3,"v":0.07},{"s":185,"d":3,"v":0.01},{"s":186,"d":2,"v":0.68},{"s":188,"d":4,"v":0.01},{"s":190,"d":4,"v":0.8},{"s":193,"d":3,"v":0.57},{"s":195,"d":3,"v":0.9},{"s":196,"d":2,"v":0.01},{"s":196,"d":4,"v":0.68},{"s":192,"d":4,"v":0.9},{"s":198,"d":6,"v":0.01},{"s":201,"d":7,"v":1},{"s":199,"d":7,"v":1},{"s":206,"d":4,"v":0.9},{"s":211,"d":3,"v":1},{"s":220,"d":4,"v":0.8},{"s":221,"d":5,"v":0.68},{"s":235,"d":3,"v":0.8},{"s":236,"d":6,"v":0.57},
{"s":1,"d":1,"v":1},{"s":3,"d":1,"v":1},{"s":5,"d":1,"v":1},{"s":7,"d":1,"v":1},{"s":9,"d":1,"v":1},{"s":11,"d":1,"v":1},{"s":13,"d":1,"v":1},{"s":15,"d":1,"v":1},{"s":17,"d":1,"v":1},{"s":19,"d":1,"v":1},{"s":21,"d":1,"v":1},{"s":23,"d":1,"v":1},{"s":25,"d":1,"v":1},{"s":27,"d":1,"v":1},{"s":29,"d":1,"v":1},{"s":31,"d":1,"v":1},{"s":33,"d":1,"v":1},{"s":35,"d":1,"v":1},{"s":37,"d":1,"v":1},{"s":39,"d":1,"v":1},{"s":41,"d":1,"v":1},{"s":43,"d":1,"v":1},{"s":45,"d":1,"v":1},{"s":47,"d":1,"v":1},{"s":49,"d":1,"v":1},{"s":51,"d":1,"v":1},{"s":53,"d":1,"v":1},{"s":55,"d":1,"v":1},{"s":57,"d":1,"v":1},{"s":59,"d":1,"v":1},{"s":61,"d":1,"v":1},{"s":63,"d":1,"v":1},{"s":65,"d":1,"v":1},{"s":67,"d":1,"v":1},{"s":69,"d":1,"v":1},{"s":71,"d":1,"v":1},{"s":73,"d":1,"v":1},{"s":75,"d":1,"v":1},{"s":77,"d":1,"v":1},{"s":79,"d":1,"v":1},{"s":81,"d":1,"v":1},{"s":83,"d":1,"v":1},{"s":85,"d":1,"v":1},{"s":87,"d":1,"v":1},{"s":89,"d":1,"v":1},{"s":91,"d":1,"v":1},{"s":93,"d":1,"v":1},{"s":95,"d":1,"v":1},{"s":97,"d":1,"v":1},{"s":99,"d":1,"v":1},{"s":101,"d":1,"v":1},{"s":103,"d":1,"v":1},{"s":105,"d":1,"v":1},{"s":107,"d":1,"v":1},{"s":109,"d":1,"v":1},{"s":115,"d":1,"v":1},{"s":119,"d":1,"v":1},{"s":121,"d":1,"v":1},{"s":123,"d":1,"v":1},{"s":125,"d":1,"v":1},{"s":127,"d":1,"v":1},{"s":129,"d":1,"v":1},{"s":131,"d":1,"v":1},{"s":133,"d":1,"v":1},{"s":135,"d":1,"v":1},{"s":137,"d":1,"v":1},{"s":139,"d":1,"v":1},{"s":141,"d":1,"v":1},{"s":143,"d":1,"v":1},{"s":145,"d":1,"v":1},{"s":147,"d":1,"v":1},{"s":149,"d":1,"v":1},{"s":151,"d":1,"v":1},{"s":153,"d":1,"v":1},{"s":155,"d":1,"v":1},{"s":157,"d":1,"v":1},{"s":159,"d":1,"v":1},{"s":161,"d":1,"v":1},{"s":163,"d":1,"v":1},{"s":165,"d":1,"v":1},{"s":167,"d":1,"v":1},{"s":169,"d":1,"v":1},{"s":171,"d":1,"v":1},{"s":173,"d":1,"v":1},{"s":175,"d":1,"v":1},{"s":177,"d":1,"v":1},{"s":179,"d":1,"v":1},{"s":181,"d":1,"v":1},{"s":183,"d":1,"v":0.45},{"s":185,"d":1,"v":1},{"s":187,"d":1,"v":1},{"s":189,"d":1,"v":1},{"s":191,"d":1,"v":0.62},{"s":193,"d":1,"v":0.45},{"s":195,"d":1,"v":1},{"s":197,"d":1,"v":1},{"s":199,"d":1,"v":1},{"s":201,"d":1,"v":1},{"s":203,"d":1,"v":1},{"s":205,"d":1,"v":0.62},{"s":207,"d":1,"v":0.08},{"s":209,"d":1,"v":0.35},{"s":211,"d":1,"v":1},{"s":213,"d":1,"v":1},{"s":215,"d":1,"v":1},{"s":217,"d":1,"v":0.6},{"s":219,"d":1,"v":0.08},{"s":221,"d":1,"v":1},{"s":223,"d":1,"v":0.55},{"s":225,"d":1,"v":0.62},{"s":227,"d":1,"v":0.75},{"s":229,"d":1,"v":0.45},{"s":231,"d":1,"v":1},{"s":233,"d":1,"v":0.1},{"s":235,"d":1,"v":1},{"s":237,"d":1,"v":1},{"s":239,"d":1,"v":1},{"s":241,"d":1,"v":0.66},{"s":243,"d":1,"v":0.05},{"s":245,"d":1,"v":0.62},{"s":247,"d":1,"v":0.08},{"s":249,"d":1,"v":1},{"s":251,"d":1,"v":1},{"s":253,"d":1,"v":1},{"s":255,"d":1,"v":1},{"s":257,"d":1,"v":1},{"s":259,"d":1,"v":1},{"s":261,"d":1,"v":1},{"s":263,"d":1,"v":1},{"s":265,"d":1,"v":1},{"s":267,"d":1,"v":1},{"s":269,"d":1,"v":1},{"s":271,"d":1,"v":1},{"s":273,"d":1,"v":1},{"s":275,"d":1,"v":1},{"s":277,"d":1,"v":1},{"s":279,"d":1,"v":1},{"s":281,"d":1,"v":1},{"s":283,"d":1,"v":1},{"s":285,"d":1,"v":1},{"s":287,"d":1,"v":1},{"s":289,"d":1,"v":1},{"s":291,"d":1,"v":1},{"s":293,"d":1,"v":1},{"s":295,"d":1,"v":1},{"s":297,"d":1,"v":1},{"s":299,"d":1,"v":1}],
"blocks":[{"b":1,"n":1,"s":4,"d":1},{"b":1,"n":2,"s":6,"d":1},{"b":1,"n":3,"s":5,"d":2},{"b":1,"n":4,"s":4,"d":1},{"b":2,"n":1,"s":10,"d":1},{"b":2,"n":2,"s":12,"d":1},{"b":2,"n":3,"s":11,"d":2},{"b":2,"n":4,"s":10,"d":1},{"b":3,"n":1,"s":14,"d":1},{"b":3,"n":2,"s":16,"d":1},{"b":3,"n":3,"s":15,"d":2},{"b":3,"n":4,"s":14,"d":1},{"b":4,"n":1,"s":20,"d":1},{"b":4,"n":2,"s":46,"d":1},{"b":4,"n":3,"s":33,"d":14},{"b":4,"n":4,"s":20,"d":1},{"b":5,"n":1,"s":48,"d":1},{"b":5,"n":2,"s":72,"d":1},{"b":5,"n":3,"s":60,"d":13},{"b":5,"n":4,"s":48,"d":1},{"b":6,"n":1,"s":84,"d":1},{"b":6,"n":2,"s":106,"d":1},{"b":6,"n":3,"s":95,"d":12},{"b":6,"n":4,"s":84,"d":1},{"b":7,"n":1,"s":106,"d":1},{"b":7,"n":2,"s":110,"d":1},{"b":7,"n":3,"s":108,"d":3},{"b":7,"n":4,"s":106,"d":1},{"b":8,"n":1,"s":120,"d":1},{"b":8,"n":2,"s":134,"d":1},{"b":8,"n":3,"s":127,"d":8},{"b":8,"n":4,"s":120,"d":1},{"b":9,"n":1,"s":160,"d":1},{"b":9,"n":2,"s":166,"d":1},{"b":9,"n":3,"s":163,"d":4},{"b":9,"n":4,"s":160,"d":1},{"b":10,"n":1,"s":196,"d":1},{"b":10,"n":2,"s":198,"d":1},{"b":10,"n":3,"s":197,"d":2},{"b":10,"n":4,"s":196,"d":1},{"b":11,"n":1,"s":220,"d":1},{"b":11,"n":2,"s":222,"d":1},{"b":11,"n":3,"s":221,"d":2},{"b":11,"n":4,"s":220,"d":1},{"b":12,"n":1,"s":260,"d":1},{"b":12,"n":2,"s":300,"d":1},{"b":12,"n":3,"s":280,"d":21},{"b":12,"n":4,"s":260,"d":1}],
"key":[{"a":0,"z":0.03,"v":0},{"a":0.03,"z":0.061,"v":0.031},{"a":0.061,"z":0.091,"v":0.063},{"a":0.091,"z":0.121,"v":0.094},{"a":0.121,"z":0.152,"v":0.125},{"a":0.152,"z":0.182,"v":0.156},{"a":0.182,"z":0.212,"v":0.188},{"a":0.212,"z":0.242,"v":0.219},{"a":0.242,"z":0.273,"v":0.25},{"a":0.273,"z":0.303,"v":0.281},{"a":0.303,"z":0.333,"v":0.313},{"a":0.333,"z":0.364,"v":0.344},{"a":0.364,"z":0.394,"v":0.375},{"a":0.394,"z":0.424,"v":0.406},{"a":0.424,"z":0.455,"v":0.438},{"a":0.455,"z":0.485,"v":0.469},{"a":0.485,"z":0.515,"v":0.5},{"a":0.515,"z":0.545,"v":0.531},{"a":0.545,"z":0.576,"v":0.563},{"a":0.576,"z":0.606,"v":0.594},{"a":0.606,"z":0.636,"v":0.625},{"a":0.636,"z":0.667,"v":0.656},{"a":0.667,"z":0.697,"v":0.688},{"a":0.697,"z":0.727,"v":0.719},{"a":0.727,"z":0.758,"v":0.75},{"a":0.758,"z":0.788,"v":0.781},{"a":0.788,"z":0.818,"v":0.813},{"a":0.818,"z":0.848,"v":0.844},{"a":0.848,"z":0.879,"v":0.875},{"a":0.879,"z":0.909,"v":0.906},{"a":0.909,"z":0.939,"v":0.938},{"a":0.939,"z":0.97,"v":0.969},{"a":0.97,"z":1,"v":1}]
},
"layer":[
{"data":{"values":[{"pos":0,"end":13020}]},"mark":{"type":"rect","fill":"#A6CEE3"},"encoding":{"x":{"field":"pos","type":"quantitative","axis":null,"scale":{"domain":[-1307.7,13747.4],"nice":false,"zero":false}},"x2":{"field":"end"},"y":{"datum":-36.86,"type":"quantitative","axis":null,"scale":{"domain":[-89.7,167.09],"reverse":true,"nice":false,"zero":false}},"y2":{"datum":-24.83}}},
{"data":{"name":"snps"},"mark":{"type":"rule","strokeWidth":3.5},"encoding":{"x":{"field":"pos","type":"quantitative","axis":null,"scale":{"domain":[-1307.7,13747.4],"nice":false,"zero":false}},"y":{"datum":-36.86,"type":"quantitative","axis":null,"scale":{"domain":[-89.7,167.09],"reverse":true,"nice":false,"zero":false}},"y2":{"datum":-24.83},"stroke":{"field":"cls","type":"nominal","legend":null,"scale":{"domain":["g","p"],"range":["#7F7F7F","#E38ABF"]}}}},
{"data":{"name":"snps"},"mark":{"type":"rule","strokeWidth":2.6,"color":"#008000","opacity":1},"encoding":{"x":{"field":"pos","type":"quantitative","axis":null,"scale":{"domain":[-1307.7,13747.4],"nice":false,"zero":false}},"x2":{"field":"slot"},"y":{"datum":-24.83,"type":"quantitative","axis":null,"scale":{"domain":[-89.7,167.09],"reverse":true,"nice":false,"zero":false}},"y2":{"datum":-1.09}}},
{"data":{"values":[{"pos":8,"label":"Start:143.209"},{"pos":6507,"label":"chr8 Region:13.02 (kb)"},{"pos":13012,"label":"End:143.222 (Mb)"}]},"mark":{"type":"text","font":"Liberation Sans","fontSize":43,"color":"black","align":"center","baseline":"alphabetic"},"encoding":{"x":{"field":"pos","type":"quantitative","axis":null,"scale":{"domain":[-1307.7,13747.4],"nice":false,"zero":false}},"y":{"datum":-40.65,"type":"quantitative","axis":null,"scale":{"domain":[-89.7,167.09],"reverse":true,"nice":false,"zero":false}},"text":{"field":"label"}}},
{"data":{"values":[{"s":0,"d":1,"f":1},{"s":150,"d":1,"f":151},{"s":300,"d":1,"f":1}]},"mark":{"type":"area","color":"#FF0000","interpolate":"linear","line":false},"encoding":{"x":{"field":"s","type":"quantitative","axis":null,"scale":{"domain":[-30.13,316.8],"nice":false,"zero":false}},"y":{"field":"d","type":"quantitative","axis":null,"scale":{"domain":[-89.7,167.09],"reverse":true,"nice":false,"zero":false}},"y2":{"field":"f"}}},
{"data":{"name":"strips"},"mark":{"type":"rule","strokeWidth":16.3,"strokeCap":"square","opacity":1},"encoding":{"x":{"field":"s","type":"quantitative","axis":null,"scale":{"domain":[-30.13,316.8],"nice":false,"zero":false}},"x2":{"field":"t"},"y":{"field":"d","type":"quantitative","axis":null,"scale":{"domain":[-89.7,167.09],"reverse":true,"nice":false,"zero":false}},"y2":{"field":"e"},"color":{"field":"v","type":"quantitative","legend":null,"scale":{"interpolate":"rgb","domain":[0,0.5,0.55,0.625,0.7,0.8,0.9,1],"range":["#FFFFFF","#EFE93F","#F2CF3F","#F4A935","#F9812A","#FE5A1C","#FF2E0D","#FF0000"]}}}},
{"data":{"name":"cells"},"mark":{"type":"point","shape":"diamond","filled":true,"size":530,"opacity":1,"strokeWidth":0},"encoding":{"x":{"field":"s","type":"quantitative","axis":null,"scale":{"domain":[-30.13,316.8],"nice":false,"zero":false}},"y":{"field":"d","type":"quantitative","axis":null,"scale":{"domain":[-89.7,167.09],"reverse":true,"nice":false,"zero":false}},"color":{"field":"v","type":"quantitative","legend":null,"scale":{"interpolate":"rgb","domain":[0,0.5,0.55,0.625,0.7,0.8,0.9,1],"range":["#FFFFFF","#EFE93F","#F2CF3F","#F4A935","#F9812A","#FE5A1C","#FF2E0D","#FF0000"]}}}},
{"data":{"name":"blocks"},"mark":{"type":"line","color":"black","strokeWidth":2.5,"interpolate":"linear"},"encoding":{"x":{"field":"s","type":"quantitative","axis":null,"scale":{"domain":[-30.13,316.8],"nice":false,"zero":false}},"y":{"field":"d","type":"quantitative","axis":null,"scale":{"domain":[-89.7,167.09],"reverse":true,"nice":false,"zero":false}},"detail":{"field":"b"},"order":{"field":"n"}}},
{"data":{"name":"key"},"mark":{"type":"rect"},"encoding":{"x":{"field":"a","type":"quantitative","axis":null,"scale":{"domain":[-2.2212,1.1135],"nice":false,"zero":false}},"x2":{"field":"z"},"y":{"datum":144.3,"type":"quantitative","axis":null,"scale":{"domain":[-89.7,167.09],"reverse":true,"nice":false,"zero":false}},"y2":{"datum":152.2},"color":{"field":"v","type":"quantitative","legend":null,"scale":{"interpolate":"rgb","domain":[0,0.5,0.55,0.625,0.7,0.8,0.9,1],"range":["#FFFFFF","#EFE93F","#F2CF3F","#F4A935","#F9812A","#FE5A1C","#FF2E0D","#FF0000"]}}}},
{"data":{"values":[{"a":0,"z":1}]},"mark":{"type":"rect","fillOpacity":0,"stroke":"black","strokeWidth":3.5},"encoding":{"x":{"field":"a","type":"quantitative","axis":null,"scale":{"domain":[-2.2212,1.1135],"nice":false,"zero":false}},"x2":{"field":"z"},"y":{"datum":144.3,"type":"quantitative","axis":null,"scale":{"domain":[-89.7,167.09],"reverse":true,"nice":false,"zero":false}},"y2":{"datum":152.2}}},
{"data":{"values":[{"a":0.484,"label":"D' Color Key"}]},"mark":{"type":"text","font":"Liberation Sans","fontSize":86,"color":"black","align":"center","baseline":"alphabetic"},"encoding":{"x":{"field":"a","type":"quantitative","axis":null,"scale":{"domain":[-2.2212,1.1135],"nice":false,"zero":false}},"y":{"datum":136.8,"type":"quantitative","axis":null,"scale":{"domain":[-89.7,167.09],"reverse":true,"nice":false,"zero":false}},"text":{"field":"label"}}},
{"data":{"values":[{"a":0.003,"label":"0.0"},{"a":0.972,"label":"1.0"}]},"mark":{"type":"text","font":"Liberation Sans","fontSize":84,"color":"black","align":"center","baseline":"alphabetic"},"encoding":{"x":{"field":"a","type":"quantitative","axis":null,"scale":{"domain":[-2.2212,1.1135],"nice":false,"zero":false}},"y":{"datum":159.4,"type":"quantitative","axis":null,"scale":{"domain":[-89.7,167.09],"reverse":true,"nice":false,"zero":false}},"text":{"field":"label"}}}
]}
